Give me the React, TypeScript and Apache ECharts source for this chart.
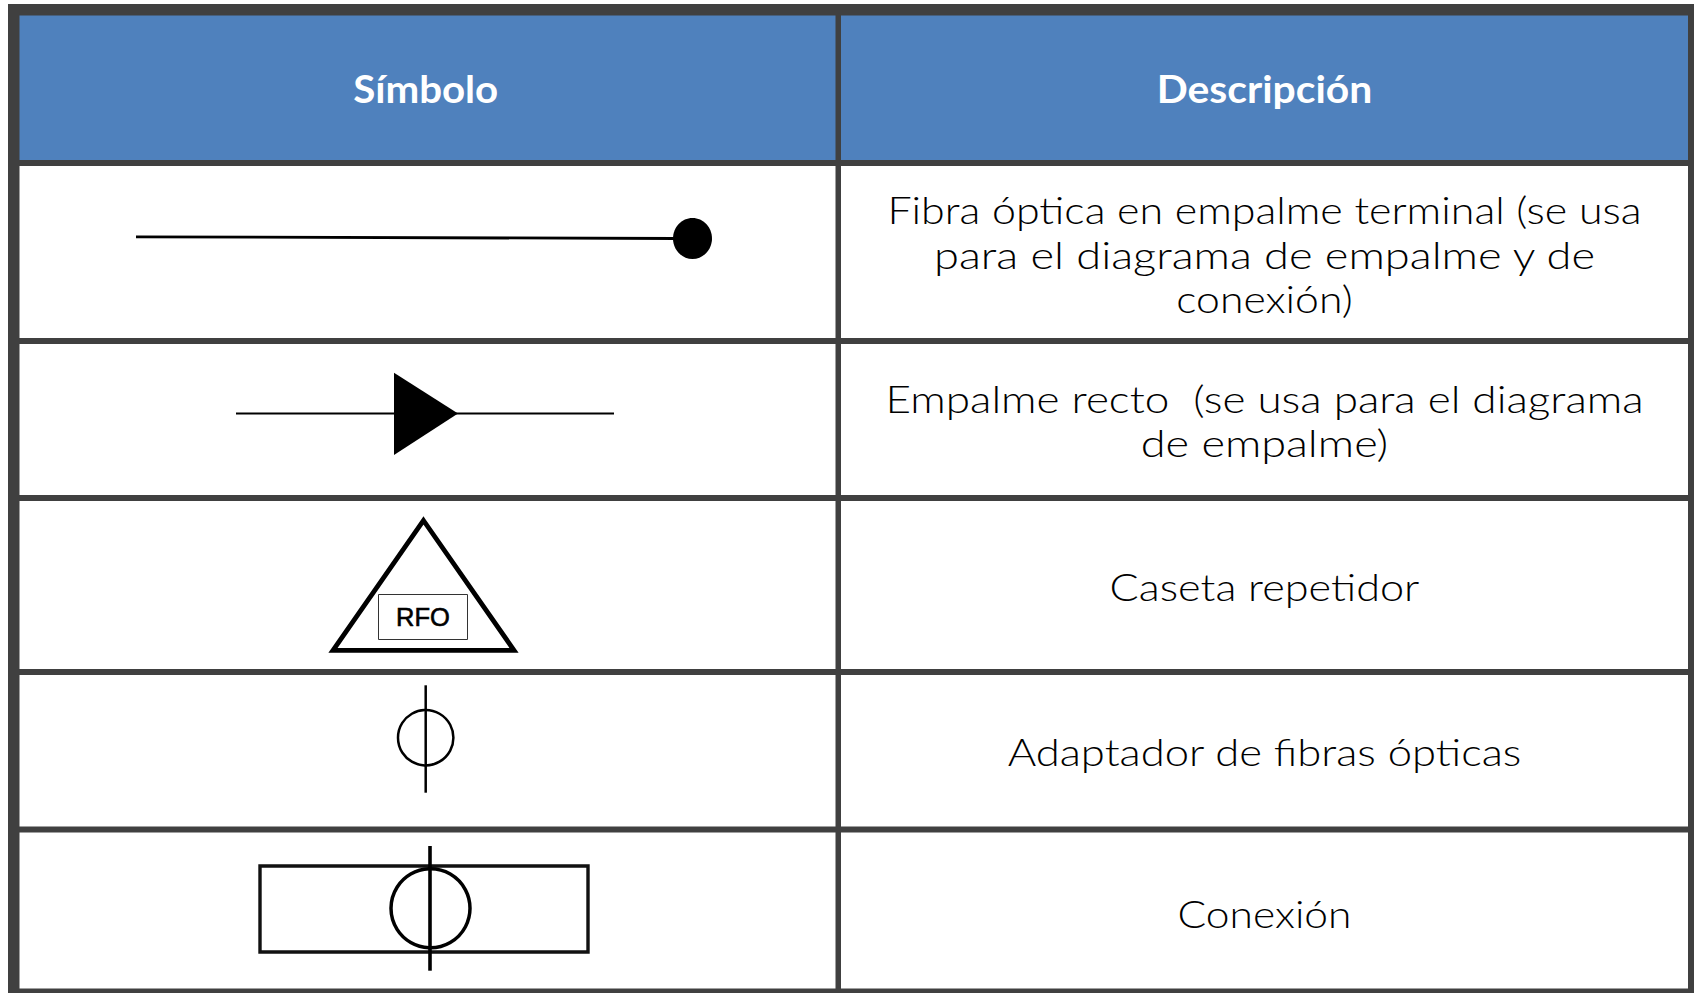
import React, { useEffect, useRef } from "react";
import * as echarts from "echarts";

const headers = ["Símbolo", "Descripción"];
const descriptions = [
  ["Fibra óptica en empalme terminal (se usa", "para el diagrama de empalme y de", "conexión)"],
  ["Empalme recto  (se usa para el diagrama", "de empalme)"],
  ["Caseta repetidor"],
  ["Adaptador de fibras ópticas"],
  ["Conexión"],
];
const repeaterLabel = "RFO";

// layout of the description column (the reference font is wider than the installed ones)
const descriptionRowCenters = [254, 420, 587, 752, 913];
const descriptionFit = [[1.131, 1.19, 1.125], [1.16, 1.187], [1.138], [1.147], [1.12]];
const headerFit = [1.06, 1.075];

const BORDER = "#404040";
const BLUE = "#4F81BD";
const INK = "#000000";
const FONT = "Lato, 'Noto Sans', sans-serif";
const COL_CENTERS = [425.7, 1264.5];

const bar = (x: number, y: number, width: number, height: number, fill: string) => ({
  type: "rect",
  shape: { x, y, width, height },
  style: { fill },
});
const seg = (x1: number, y1: number, x2: number, y2: number, lineWidth: number) => ({
  type: "line",
  shape: { x1, y1, x2, y2 },
  style: { stroke: INK, lineWidth },
});
const ring = (cx: number, cy: number, r: number, lineWidth: number) => ({
  type: "circle",
  shape: { cx, cy, r },
  style: { fill: "none", stroke: INK, lineWidth },
});

function buildGraphics() {
  const els: any[] = [];
  els.push(bar(19, 15, 817, 146, BLUE), bar(841, 15, 847, 146, BLUE));
  els.push(bar(8, 4, 1686, 11.5, BORDER));
  els.push(bar(8, 4, 11.5, 989, BORDER));
  els.push(bar(835.5, 4, 5.5, 989, BORDER));
  els.push(bar(1688, 4, 6, 989, BORDER));
  [[160, 6], [338, 6], [495, 6], [669, 6], [826.5, 6], [988.5, 4.5]].forEach(([y, h]) =>
    els.push(bar(8, y, 1686, h, BORDER))
  );

  headers.forEach((text, i) => {
    els.push({
      type: "text", x: COL_CENTERS[i], y: 88, scaleX: headerFit[i],
      style: { text, fill: "#fff", font: `bold 38px ${FONT}`, align: "center", verticalAlign: "middle" },
    });
  });
  descriptions.forEach((lines, i) => {
    lines.forEach((text, j) => {
      const y = descriptionRowCenters[i] + (j - (lines.length - 1) / 2) * 44.5;
      els.push({
        type: "text", x: COL_CENTERS[1], y, scaleX: descriptionFit[i][j],
        style: { text, fill: INK, font: `300 38px ${FONT}`, align: "center", verticalAlign: "middle" },
      });
    });
  });

  // fibra en empalme terminal
  els.push(seg(136, 236.8, 675, 238.5, 2.8));
  els.push({ type: "ellipse", shape: { cx: 692.5, cy: 238.5, rx: 19.5, ry: 20.5 }, style: { fill: INK } });
  // empalme recto
  els.push(seg(236, 413.5, 614, 413.5, 2));
  els.push({ type: "polygon", shape: { points: [[394, 372.7], [458, 413.5], [394, 455]] }, style: { fill: INK } });
  // caseta repetidor
  els.push({
    type: "polygon",
    shape: { points: [[423.5, 520.5], [514, 650.3], [333, 650.3]] },
    style: { fill: "none", stroke: INK, lineWidth: 4.8, lineJoin: "miter" },
  });
  els.push({
    type: "rect", shape: { x: 378.5, y: 594.5, width: 89, height: 45 },
    style: { fill: "#fff", stroke: "#333", lineWidth: 1 },
  });
  els.push({
    type: "text", x: 423, y: 617, scaleX: 0.98,
    style: { text: repeaterLabel, fill: INK, font: `26px 'Liberation Sans', Arial, sans-serif`, align: "center", verticalAlign: "middle", stroke: INK, lineWidth: 0.6 },
  });
  // adaptador
  els.push(ring(425.7, 737.7, 27.7, 2.5));
  els.push(seg(425.7, 685.3, 425.7, 792.7, 2.5));
  // conexión
  els.push({
    type: "rect", shape: { x: 260, y: 866, width: 328, height: 86 },
    style: { fill: "none", stroke: "#111", lineWidth: 3.4 },
  });
  els.push(ring(430.5, 908.3, 39.5, 3.5));
  els.push(seg(430, 846, 430, 970.7, 3.6));
  return els;
}

export default function App() {
  const ref = useRef<HTMLDivElement>(null);
  useEffect(() => {
    document.body.style.margin = "0";
    document.body.style.overflow = "hidden";
    const chart = echarts.init(ref.current!, undefined, { renderer: "svg" });
    chart.setOption({
      animation: false,
      backgroundColor: "#ffffff",
      graphic: { elements: buildGraphics() },
    });
    return () => chart.dispose();
  }, []);
  return <div ref={ref} style={{ position: "absolute", left: 0, top: 0, width: 1694, height: 993 }} />;
}
